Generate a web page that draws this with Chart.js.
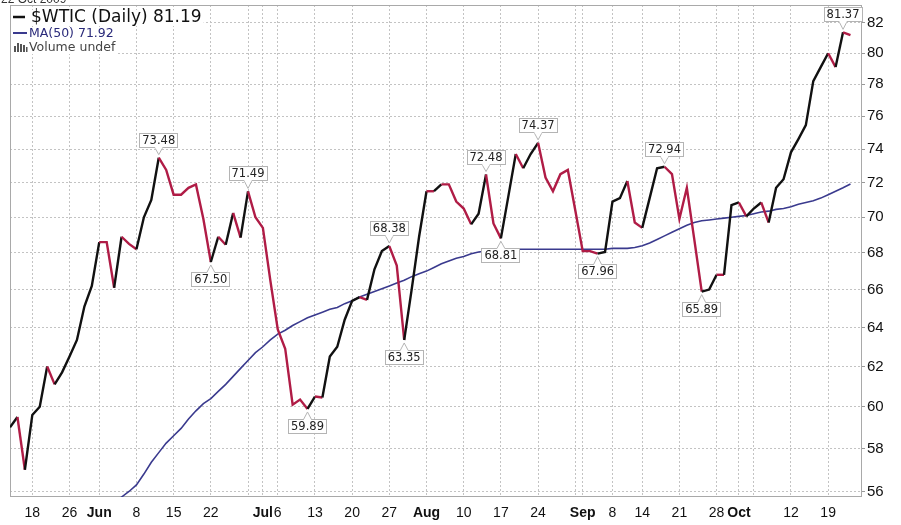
<!DOCTYPE html>
<html><head><meta charset="utf-8">
<script src="https://cdn.jsdelivr.net/npm/chart.js@4.4.0/dist/chart.umd.min.js"></script>
<style>html,body{margin:0;padding:0;background:#fff}#wrap{width:901px;height:525px;position:relative}</style>
</head><body><div id="wrap"><canvas id="c" width="901" height="525"></canvas></div>
<script>
// ---- categories: trading days (2009) ----
const dates = [
 'May 13','May 14','May 15','May 18','May 19','May 20','May 21','May 22','May 26','May 27','May 28','May 29',
 'Jun 1','Jun 2','Jun 3','Jun 4','Jun 5','Jun 8','Jun 9','Jun 10','Jun 11','Jun 12','Jun 15','Jun 16','Jun 17','Jun 18','Jun 19','Jun 22','Jun 23','Jun 24','Jun 25','Jun 26','Jun 29','Jun 30',
 'Jul 1','Jul 2','Jul 6','Jul 7','Jul 8','Jul 9','Jul 10','Jul 13','Jul 14','Jul 15','Jul 16','Jul 17','Jul 20','Jul 21','Jul 22','Jul 23','Jul 24','Jul 27','Jul 28','Jul 29','Jul 30','Jul 31',
 'Aug 3','Aug 4','Aug 5','Aug 6','Aug 7','Aug 10','Aug 11','Aug 12','Aug 13','Aug 14','Aug 17','Aug 18','Aug 19','Aug 20','Aug 21','Aug 24','Aug 25','Aug 26','Aug 27','Aug 28','Aug 31',
 'Sep 1','Sep 2','Sep 3','Sep 4','Sep 8','Sep 9','Sep 10','Sep 11','Sep 14','Sep 15','Sep 16','Sep 17','Sep 18','Sep 21','Sep 22','Sep 23','Sep 24','Sep 25','Sep 28','Sep 29','Sep 30',
 'Oct 1','Oct 2','Oct 5','Oct 6','Oct 7','Oct 8','Oct 9','Oct 12','Oct 13','Oct 14','Oct 15','Oct 16','Oct 19','Oct 20','Oct 21','Oct 22'
];
// ---- series: $WTIC daily close ----
const wtic = [
 59.0,59.5,57.0,59.6,60.0,62.0,61.1,61.7,62.5,63.35,65.1,66.2,
 68.6,68.6,66.1,68.9,68.5,68.2,70.0,71.0,73.48,72.75,71.3,71.3,71.7,71.9,69.9,67.50,68.9,68.45,70.25,68.85,71.49,70.0,
 69.4,66.5,63.9,62.9,60.1,60.35,59.89,60.5,60.45,62.5,63.0,64.4,65.4,65.6,65.45,67.1,68.1,68.38,67.3,63.35,66.0,68.9,
 71.5,71.5,71.9,71.9,70.9,70.5,69.6,70.2,72.48,69.65,68.81,71.2,73.7,72.85,73.7,74.37,72.3,71.5,72.5,72.75,70.4,
 68.1,68.1,67.96,68.05,70.9,71.1,72.1,69.7,69.4,71.1,72.85,72.94,72.5,69.9,71.7,68.75,65.89,66.0,66.8,66.8,70.7,
 70.85,70.05,70.5,70.85,69.7,71.7,72.2,73.8,74.6,75.45,78.2,79.1,80.0,79.1,81.37,81.19
];
// ---- series: 50-day moving average (null before it enters the visible range) ----
const ma50 = [
 null,null,null,null,null,null,null,null,null,null,null,null,
 null,null,55.45,55.75,56.0,56.3,56.8,57.35,57.8,58.25,58.6,58.95,59.4,59.8,60.15,60.4,60.75,61.1,61.5,61.9,62.3,62.7,
 63.0,63.35,63.65,63.85,64.1,64.3,64.5,64.65,64.8,64.95,65.05,65.25,65.4,65.6,65.75,65.9,66.05,66.2,66.35,66.5,66.7,66.85,
 67.0,67.2,67.4,67.55,67.7,67.8,67.95,68.05,68.1,68.15,68.15,68.2,68.2,68.2,68.2,68.2,68.2,68.2,68.2,68.2,68.2,
 68.2,68.2,68.2,68.2,68.25,68.25,68.25,68.3,68.4,68.55,68.75,68.95,69.15,69.35,69.55,69.7,69.8,69.85,69.9,69.95,70.0,
 70.05,70.1,70.2,70.3,70.35,70.45,70.5,70.6,70.75,70.85,70.95,71.1,71.3,71.5,71.7,71.92
];
// ---- labelled swing points ----
const pivotDates = ['Jun 11','Jun 22','Jun 29','Jul 10','Jul 27','Jul 29','Aug 13','Aug 17','Aug 24','Sep 3','Sep 17','Sep 24','Oct 21'];
const pivotSides = ['H','L','H','L','H','L','H','L','H','L','H','L','H'];
// ---- tick labels ----
const yTicks = [56,58,60,62,64,66,68,70,72,74,76,78,80,82];
const gridDates = ['May 18','May 26','Jun 1','Jun 8','Jun 15','Jun 22','Jun 29','Jul 1','Jul 6','Jul 13','Jul 20','Jul 27','Aug 3','Aug 10','Aug 17','Aug 24','Aug 31','Sep 1','Sep 8','Sep 14','Sep 21','Sep 28','Oct 1','Oct 5','Oct 12','Oct 19'];
const gridLabels = ['18','26','Jun','8','15','22','','Jul','6','13','20','27','Aug','10','17','24','','Sep','8','14','21','28','Oct','','12','19'];
const monthNames = ['Jun','Jul','Aug','Sep','Oct'];
const titleText = '22 Oct 2009';

const RED = '#b01c46', BLACK = '#111111', MACOL = '#3a3a8e';
const gridIdx = gridDates.map(d => dates.indexOf(d));
const pivotIdx = pivotDates.map(d => dates.indexOf(d));

// segments inside a falling swing (from a labelled high to the next labelled low) are drawn red
const fallingLeg = new Array(wtic.length).fill(false);
pivotIdx.forEach((a, k) => {
  if (pivotSides[k] !== 'H') return;
  const b = k + 1 < pivotIdx.length ? pivotIdx[k + 1] : wtic.length - 1;
  for (let i = a; i < b; i++) fallingLeg[i] = true;
});

const framePlugin = {
  id: 'frame',
  beforeDatasetsDraw(chart) {
    const a = chart.chartArea, ctx = chart.ctx;
    ctx.save();
    ctx.strokeStyle = '#a9a9a9'; ctx.lineWidth = 1;
    ctx.strokeRect(a.left + 0.5, a.top + 0.5, a.right - a.left - 1, a.bottom - a.top - 1);
    ctx.restore();
  }
};

const labelPlugin = {
  id: 'pivots',
  afterDatasetsDraw(chart) {
    const ctx = chart.ctx, xs = chart.scales.x, ys = chart.scales.y;
    ctx.save();
    ctx.font = '11.5px "DejaVu Sans"';
    pivotIdx.forEach((i, k) => {
      const v = wtic[i];
      const px = xs.getPixelForValue(i), py = ys.getPixelForValue(v);
      const txt = v.toFixed(2);
      const w = Math.round(ctx.measureText(txt).width + 6), h = 15;
      const up = pivotSides[k] === 'H';
      const gap = 10;
      const by = Math.round(up ? py - gap - h : py + gap);
      const bx = Math.round(px - w / 2);
      ctx.fillStyle = '#fff'; ctx.strokeStyle = '#b4b4b4'; ctx.lineWidth = 1;
      ctx.fillRect(bx, by, w, h);
      ctx.strokeRect(bx + 0.5, by + 0.5, w - 1, h - 1);
      ctx.beginPath();
      if (up) { ctx.moveTo(px - 4, by + h - 0.5); ctx.lineTo(px, py - 3); ctx.lineTo(px + 4, by + h - 0.5); }
      else { ctx.moveTo(px - 4, by + 0.5); ctx.lineTo(px, py + 3); ctx.lineTo(px + 4, by + 0.5); }
      ctx.fill(); ctx.stroke();
      ctx.fillStyle = '#fff';
      ctx.fillRect(px - 3.5, up ? by + h - 1.5 : by, 7, 2);
      ctx.fillStyle = '#222'; ctx.textAlign = 'center'; ctx.textBaseline = 'middle';
      ctx.fillText(txt, px, by + h / 2 + 0.5);
    });
    ctx.restore();
  }
};

const legendPlugin = {
  id: 'legendText',
  afterDraw(chart) {
    const ctx = chart.ctx;
    ctx.save();
    ctx.textAlign = 'left';
    ctx.font = '12px "Liberation Sans"'; ctx.fillStyle = '#333';
    ctx.textBaseline = 'alphabetic';
    ctx.fillText(titleText, 1, 3);
    ctx.textBaseline = 'middle';
    const r1 = '$WTIC (Daily) ' + wtic[wtic.length - 1].toFixed(2);
    ctx.font = '17px "DejaVu Sans"';
    let w = ctx.measureText(r1).width;
    ctx.fillStyle = '#fff'; ctx.fillRect(11, 10, w + 22, 16);
    ctx.strokeStyle = BLACK; ctx.lineWidth = 2.5;
    ctx.beginPath(); ctx.moveTo(13, 17); ctx.lineTo(25, 17); ctx.stroke();
    ctx.fillStyle = '#111'; ctx.fillText(r1, 31, 18);
    const r2 = 'MA(50) ' + ma50[ma50.length - 1].toFixed(2);
    ctx.font = '12.5px "DejaVu Sans"';
    w = ctx.measureText(r2).width;
    ctx.fillStyle = '#fff'; ctx.fillRect(11, 27, w + 20, 13);
    ctx.strokeStyle = MACOL; ctx.lineWidth = 2;
    ctx.beginPath(); ctx.moveTo(13, 33); ctx.lineTo(27, 33); ctx.stroke();
    ctx.fillStyle = '#2a2a7a'; ctx.fillText(r2, 29, 33.5);
    const r3 = 'Volume undef';
    w = ctx.measureText(r3).width;
    ctx.fillStyle = '#fff'; ctx.fillRect(11, 41, w + 20, 13);
    ctx.fillStyle = '#555';
    [[14,46,2,6],[17,43,2,9],[20,44,2,8],[23,45,2,7],[26,47,1.5,5]].forEach(r => ctx.fillRect(r[0], r[1], r[2], r[3]));
    ctx.fillStyle = '#444'; ctx.fillText(r3, 29, 47.5);
    ctx.restore();
  }
};

const priceData = wtic.map((v, i) => ({ x: i, y: v }));
const maData = ma50.map((v, i) => ({ x: i, y: v }));

new Chart(document.getElementById('c'), {
  type: 'line',
  data: {
    datasets: [
      {
        label: '$WTIC', data: priceData, borderColor: BLACK, borderWidth: 2.4, pointRadius: 0, tension: 0,
        segment: { borderColor: c => ((c.p1.parsed.y <= c.p0.parsed.y || fallingLeg[c.p0DataIndex]) ? RED : BLACK) }
      },
      { label: 'MA(50)', data: maData, borderColor: MACOL, borderWidth: 1.6, pointRadius: 0, tension: 0, spanGaps: false }
    ]
  },
  options: {
    responsive: false, animation: false, devicePixelRatio: 1,
    layout: { padding: { left: 10, top: 5, right: 0, bottom: 0 } },
    plugins: { legend: { display: false }, tooltip: { enabled: false }, title: { display: false } },
    scales: {
      x: {
        type: 'linear', min: 0, max: 114.55,
        afterBuildTicks: s => { s.ticks = gridIdx.map(v => ({ value: v })); },
        afterFit: s => { s.height = 28; s.paddingLeft = 0; s.paddingRight = 0; },
        grid: { color: '#c3c3c3', lineWidth: 1, drawTicks: false },
        border: { display: false, dash: [2, 2] },
        ticks: {
          autoSkip: false, maxRotation: 0, minRotation: 0, padding: 8, color: '#111',
          callback: (v, idx) => gridLabels[idx],
          font: c => ({ family: '"Liberation Sans"', size: 14, weight: monthNames.includes(gridLabels[c.index]) ? 'bold' : 'normal' })
        }
      },
      y: {
        type: 'logarithmic', position: 'right', min: 55.75, max: 83.2,
        afterBuildTicks: s => { s.ticks = yTicks.map(v => ({ value: v })); },
        afterFit: s => { s.width = 39; s.paddingTop = 0; s.paddingBottom = 0; },
        grid: { color: '#c3c3c3', lineWidth: 1, drawTicks: true, tickLength: 3, tickColor: '#999' },
        border: { display: false, dash: [2, 2] },
        ticks: {
          padding: 2, color: '#111', font: { family: '"Liberation Sans"', size: 15 },
          callback: v => String(v)
        }
      }
    }
  },
  plugins: [framePlugin, labelPlugin, legendPlugin]
});
</script>
</body></html>
